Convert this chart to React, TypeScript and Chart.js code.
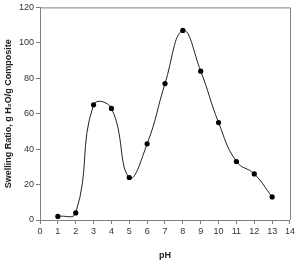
import React, { useEffect, useRef } from "react";
import { Chart, registerables } from "chart.js";

Chart.register(...registerables);

const pH = [1, 2, 3, 4, 5, 6, 7, 8, 9, 10, 11, 12, 13];
const swelling = [2, 4, 65, 63, 24, 43, 77, 107, 84, 55, 33, 26, 13];
const yTitle = "Swelling Ratio, g H\u2082O/g Composite";
const xTitle = "pH";

const FONT = "'Liberation Sans', Arial, sans-serif";
const AXIS = "#808080";

const boxPlugin = {
  id: "box",
  afterDatasetsDraw(chart: any) {
    const { ctx, chartArea: a } = chart;
    ctx.save();
    ctx.strokeStyle = AXIS;
    ctx.lineWidth = 1;
    ctx.beginPath();
    ctx.moveTo(a.left, a.top + 0.5);
    ctx.lineTo(a.right + 0.5, a.top + 0.5);
    ctx.lineTo(a.right + 0.5, a.bottom);
    ctx.stroke();
    ctx.restore();
  },
};

export default function App() {
  const ref = useRef<HTMLCanvasElement>(null);
  useEffect(() => {
    document.body.style.margin = "0";
    const chart = new Chart(ref.current!, {
      type: "scatter",
      data: {
        datasets: [
          {
            data: pH.map((x, i) => ({ x, y: swelling[i] })),
            showLine: true,
            borderColor: "#222",
            borderWidth: 1,
            backgroundColor: "#000",
            pointBackgroundColor: "#000",
            pointBorderColor: "#000",
            pointBorderWidth: 0,
            pointRadius: 2.6,
            tension: 0.45,
          },
        ],
      },
      plugins: [boxPlugin],
      options: {
        animation: false,
        responsive: false,
        layout: { padding: { top: 7, right: 4, left: 0, bottom: 0 } },
        plugins: { legend: { display: false }, tooltip: { enabled: false } },
        scales: {
          x: {
            type: "linear",
            min: 0,
            max: 14,
            ticks: { stepSize: 1, color: "#333", font: { family: FONT, size: 9 }, padding: 2 },
            grid: { drawOnChartArea: false, tickLength: 4, color: AXIS },
            border: { color: AXIS, width: 1 },
            title: {
              display: true,
              text: xTitle,
              color: "#222",
              font: { family: FONT, size: 9, weight: "bold" },
              padding: { top: 14, bottom: 0 },
            },
            afterFit: (s: any) => {
              s.height = 41;
            },
          },
          y: {
            min: 0,
            max: 120,
            ticks: { stepSize: 20, color: "#333", font: { family: FONT, size: 9 }, padding: 2 },
            grid: { drawOnChartArea: false, tickLength: 4, color: AXIS },
            border: { color: AXIS, width: 1 },
            title: {
              display: true,
              text: yTitle,
              color: "#222",
              font: { family: FONT, size: 9, weight: "bold" },
              padding: { top: 3, bottom: 0 },
            },
            afterFit: (s: any) => {
              s.width = 40;
            },
          },
        },
      },
    });
    return () => chart.destroy();
  }, []);
  return <canvas ref={ref} width={297} height={261} style={{ display: "block" }} />;
}
